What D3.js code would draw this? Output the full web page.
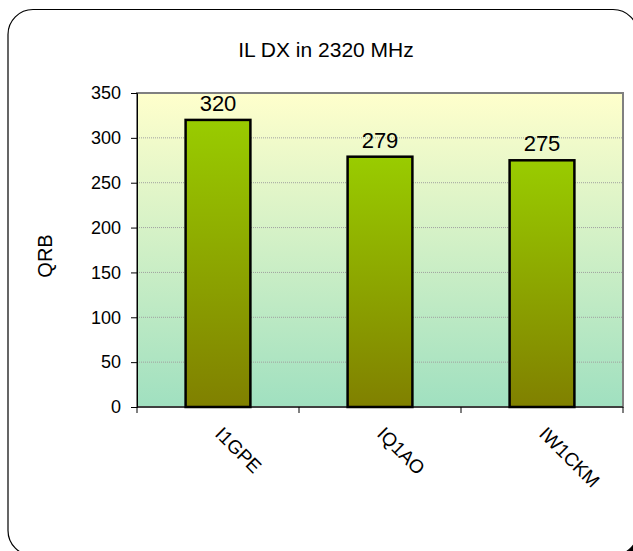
<!DOCTYPE html>
<html>
<head>
<meta charset="utf-8">
<script src="https://cdn.jsdelivr.net/npm/d3@7"></script>
<style>
  body { margin: 0; background: #fff; }
  text { font-family: "Liberation Sans", Arial, sans-serif; }
</style>
</head>
<body>
<div id="chart"></div>
<script>
// data
const stations = ["I1GPE", "IQ1AO", "IW1CKM"];
const qrb = [320, 279, 275];
const yTicks = [0, 50, 100, 150, 200, 250, 300, 350];

const W = 633, H = 551;
const margin = {top: 93, right: 10, bottom: 144, left: 137};
const width = W - margin.left - margin.right;
const height = H - margin.top - margin.bottom;

const root = d3.select("#chart").append("svg")
  .attr("width", W)
  .attr("height", H);

const defs = root.append("defs");

// plot area gradient: pale yellow to mint
const bg = defs.append("linearGradient")
  .attr("id", "bg").attr("x1", 0).attr("y1", 0).attr("x2", 0).attr("y2", 1);
bg.append("stop").attr("offset", "0%").attr("stop-color", "#ffffcc");
bg.append("stop").attr("offset", "100%").attr("stop-color", "#a0e0c0");

// bar gradient: yellow-green to olive
const bar = defs.append("linearGradient")
  .attr("id", "bar").attr("x1", 0).attr("y1", 0).attr("x2", 0).attr("y2", 1);
bar.append("stop").attr("offset", "0%").attr("stop-color", "#99cc00");
bar.append("stop").attr("offset", "100%").attr("stop-color", "#808000");

// frame with shadow
root.append("rect")
  .attr("x", 11).attr("y", 12.5)
  .attr("width", 630).attr("height", 546)
  .attr("rx", 25).attr("ry", 25)
  .attr("fill", "#000");
root.append("rect")
  .attr("x", 8).attr("y", 9.5)
  .attr("width", 630).attr("height", 546)
  .attr("rx", 25).attr("ry", 25)
  .attr("fill", "#fff")
  .attr("stroke", "#000")
  .attr("stroke-width", 1.2);

// title
root.append("text")
  .attr("x", 326).attr("y", 57)
  .attr("text-anchor", "middle")
  .style("font-size", "21px")
  .text("IL DX in 2320 MHz");

const svg = root.append("g")
  .attr("transform", `translate(${margin.left},${margin.top})`);

const x = d3.scaleBand()
  .domain(stations)
  .range([0, width])
  .paddingInner(0.6)
  .paddingOuter(0.3);

const y = d3.scaleLinear()
  .domain([0, 350])
  .range([height, 0]);

// background
svg.append("rect")
  .attr("width", width).attr("height", height)
  .attr("fill", "url(#bg)");

// gridlines
svg.selectAll(".grid")
  .data(yTicks.filter(d => d > 0 && d < 350))
  .join("line")
  .attr("x1", 0).attr("x2", width)
  .attr("y1", d => y(d)).attr("y2", d => y(d))
  .attr("stroke", "#a0a0a0")
  .attr("stroke-width", 1)
  .attr("stroke-dasharray", "1,1");

// plot border
svg.append("rect")
  .attr("width", width).attr("height", height)
  .attr("fill", "none")
  .attr("stroke", "#808080")
  .attr("stroke-width", 2);

// bars
svg.selectAll(".bar")
  .data(stations)
  .join("rect")
  .attr("x", d => x(d))
  .attr("y", (d, i) => y(qrb[i]))
  .attr("width", x.bandwidth())
  .attr("height", (d, i) => height - y(qrb[i]))
  .attr("fill", "url(#bar)")
  .attr("stroke", "#000")
  .attr("stroke-width", 2.5);

// value labels
svg.selectAll(".val")
  .data(stations)
  .join("text")
  .attr("x", d => x(d) + x.bandwidth() / 2)
  .attr("y", (d, i) => y(qrb[i]) - 9)
  .attr("text-anchor", "middle")
  .style("font-size", "22px")
  .text((d, i) => qrb[i]);

// y axis
const yAxis = svg.append("g")
  .call(d3.axisLeft(y).tickValues(yTicks).tickSize(6).tickPadding(10));
yAxis.select(".domain").attr("stroke", "#000");
yAxis.selectAll(".tick line").attr("stroke", "#000");
yAxis.selectAll(".tick text")
  .style("font-size", "18px")
  .style("font-family", "'Liberation Sans', Arial, sans-serif")
  .attr("fill", "#000");

// x axis: ticks at band boundaries
const bounds = [0, width / 3, 2 * width / 3, width];
svg.append("line")
  .attr("x1", 0).attr("x2", width)
  .attr("y1", height).attr("y2", height)
  .attr("stroke", "#000");
svg.selectAll(".xtick")
  .data(bounds)
  .join("line")
  .attr("x1", d => d).attr("x2", d => d)
  .attr("y1", height).attr("y2", height + 6)
  .attr("stroke", "#000");

svg.selectAll(".xlab")
  .data(stations)
  .join("text")
  .attr("transform", d => `translate(${x(d) + x.bandwidth() / 2 - 4},${height + 28}) rotate(45)`)
  .attr("text-anchor", "start")
  .style("font-size", "19px")
  .text(d => d);

// y title
root.append("text")
  .attr("transform", "translate(52,256) rotate(-90)")
  .attr("text-anchor", "middle")
  .style("font-size", "20px")
  .text("QRB");
</script>
</body>
</html>
